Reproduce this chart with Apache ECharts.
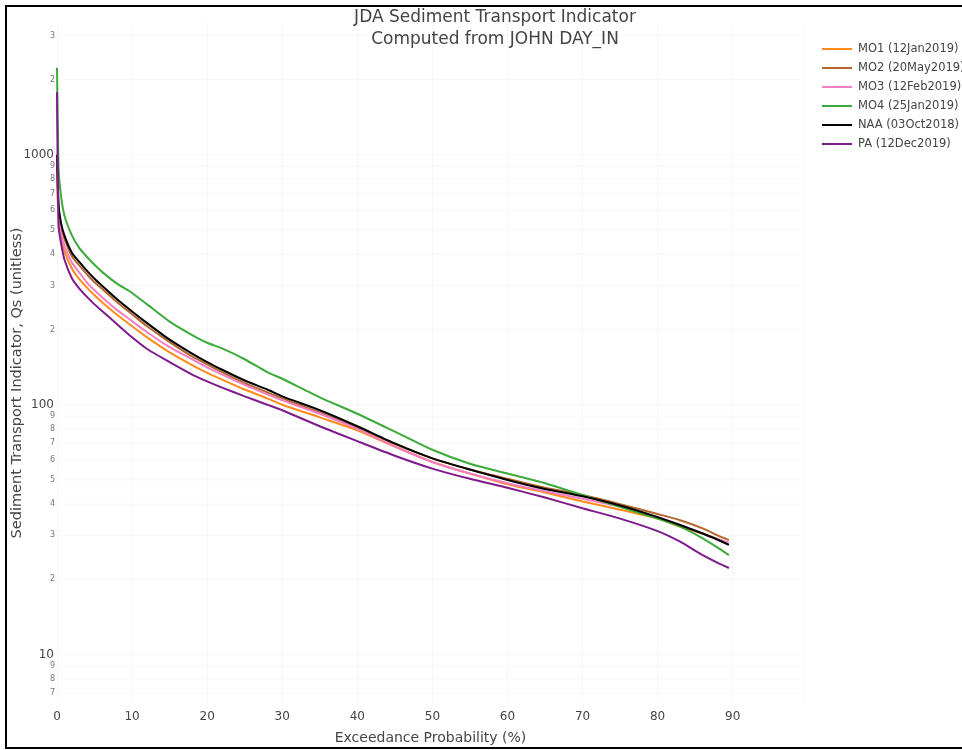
<!DOCTYPE html>
<html>
<head>
<meta charset="utf-8">
<script src="https://cdn.jsdelivr.net/npm/echarts@6/dist/echarts.min.js"></script>
<style>
  html, body { margin: 0; padding: 0; background: #fff; }
  #chart { width: 962px; height: 750px; }
</style>
</head>
<body>
<div id="chart"></div>
<script>
// exceedance probability (%)
const probs = [0, 0.2, 0.5, 1, 2, 3, 4, 5, 6, 8, 10, 12, 15, 18, 20, 22, 25, 28, 30, 35, 40, 45, 50, 55, 60, 65, 70, 75, 80, 83, 86, 88, 89.5];

// sediment transport indicator Qs per station
const mo1 = [800, 560, 470, 410, 350, 317, 294, 274, 257, 229, 206, 186, 162, 144, 134, 126, 115, 106, 100, 89, 79, 68, 59, 53, 48, 44.5, 41, 38, 35, 32.5, 30.5, 29, 28];
const mo2 = [900, 620, 520, 460, 392, 360, 332, 309, 291, 257, 230, 206, 178, 156, 145, 135, 122, 112, 106, 93, 81, 69.5, 61, 55, 50.5, 46.5, 43.5, 40, 36.5, 34.5, 32, 30, 28.7];
const mo3 = [850, 580, 490, 430, 370, 337, 308, 287, 269, 239, 216, 195, 170, 152, 141, 132, 120, 110, 104, 92, 80, 68, 59, 53, 48.5, 45, 42, 39, 35.5, 33, 30.5, 29, 28];
const mo4 = [2230, 900, 700, 570, 475, 422, 390, 363, 340, 305, 280, 252, 215, 190, 177, 168, 152, 135, 127, 107, 92, 78, 66, 58, 53, 48.5, 43.5, 39, 35, 32.5, 29.2, 26.8, 25];
const naa = [1000, 640, 540, 475, 405, 372, 343, 319, 299, 264, 236, 212, 182, 160, 148, 138, 125, 115, 108, 95, 82, 70, 61, 55, 50, 46, 43, 39.5, 35.5, 33, 30.5, 28.8, 27.5];
const pa = [1780, 520, 450, 380, 320, 291, 270, 252, 237, 210, 186, 167, 148, 132, 124, 117, 108, 100, 95, 82, 71.5, 62.5, 55.5, 50.5, 46.5, 42.5, 38.5, 35, 31.2, 28.3, 25, 23.3, 22.2];

const names = ['MO1 (12Jan2019)', 'MO2 (20May2019)', 'MO3 (12Feb2019)', 'MO4 (25Jan2019)', 'NAA (03Oct2018)', 'PA (12Dec2019)'];
const colors = ['#ff8c1a', '#b5652e', '#f47ec4', '#3cab3c', '#000000', '#7d1a8c'];
const allSeries = [mo1, mo2, mo3, mo4, naa, pa];

// y tick labels on the log axis
const majorTicks = [10, 100, 1000];
const minorTicks = [7, 8, 9, 20, 30, 40, 50, 60, 70, 80, 90, 200, 300, 400, 500, 600, 700, 800, 900, 2000, 3000];
const minorLabels = ['7', '8', '9', '2', '3', '4', '5', '6', '7', '8', '9', '2', '3', '4', '5', '6', '7', '8', '9', '2', '3'];

const font = 'DejaVu Sans';
const chart = echarts.init(document.getElementById('chart'));

const option = {
  animation: false,
  textStyle: { fontFamily: font },
  title: {
    text: 'JDA Sediment Transport Indicator\nComputed from JOHN DAY_IN',
    left: 490,
    top: 2,
    textAlign: 'center',
    textStyle: { fontFamily: font, fontSize: 17, fontWeight: 'normal', color: '#444', lineHeight: 22 }
  },
  legend: {
    orient: 'vertical',
    left: 817,
    top: 38,
    icon: 'rect',
    itemWidth: 30,
    itemHeight: 2,
    itemGap: 7,
    textStyle: { fontFamily: font, fontSize: 11.5, color: '#444', padding: [0, 0, 0, 1] },
    data: names
  },
  grid: { left: 57, right: 158, top: 22, bottom: 45 },
  xAxis: {
    type: 'value',
    min: 0,
    max: 99.5,
    interval: 10,
    name: 'Exceedance Probability (%)',
    nameLocation: 'middle',
    nameGap: 28,
    nameTextStyle: { fontFamily: font, fontSize: 14, color: '#444' },
    axisLine: { show: false },
    axisTick: { show: false },
    axisLabel: { showMaxLabel: false, fontFamily: font, fontSize: 12, color: '#444', margin: 8 },
    splitLine: { lineStyle: { color: '#f7f7f7' } }
  },
  yAxis: {
    type: 'log',
    min: 6.4,
    max: 3400,
    axisLine: { show: false },
    axisTick: { show: false },
    axisLabel: { show: false },
    splitLine: { show: false }
  },
  series: allSeries.map((vals, i) => ({
    name: names[i],
    type: 'line',
    data: probs.map((p, j) => [p, vals[j]]),
    showSymbol: false,
    smooth: 0.2,
    lineStyle: { width: 2, color: colors[i] },
    itemStyle: { color: colors[i] }
  }))
};

chart.setOption(option);

// tick labels and faint gridlines placed through the log scale
const left = chart.convertToPixel({ xAxisIndex: 0 }, 0);
const right = chart.convertToPixel({ xAxisIndex: 0 }, 99.5);
const elems = [];
majorTicks.concat(minorTicks).forEach(v => {
  const y = chart.convertToPixel({ yAxisIndex: 0 }, v);
  elems.push({ type: 'line', z: 0, shape: { x1: left, y1: y, x2: right, y2: y }, style: { stroke: '#f7f7f7', lineWidth: 1 } });
});
majorTicks.forEach(v => {
  elems.push({
    type: 'text', x: 54, y: chart.convertToPixel({ yAxisIndex: 0 }, v),
    style: { text: String(v), font: '12px "DejaVu Sans"', fill: '#444', align: 'right', verticalAlign: 'middle' }
  });
});
minorTicks.forEach((v, i) => {
  elems.push({
    type: 'text', x: 55, y: chart.convertToPixel({ yAxisIndex: 0 }, v),
    style: { text: minorLabels[i], font: '8px "DejaVu Sans"', fill: '#777', align: 'right', verticalAlign: 'middle' }
  });
});
elems.push({
  type: 'text', x: 17, y: 383, rotation: Math.PI / 2,
  style: { text: 'Sediment Transport Indicator, Qs (unitless)', font: '14.5px "DejaVu Sans"', fill: '#444', align: 'center', verticalAlign: 'middle' }
});
elems.push({
  type: 'rect', z: 10, shape: { x: 6, y: 6, width: 980, height: 742 },
  style: { fill: 'none', stroke: '#000', lineWidth: 2 }
});
chart.setOption({ graphic: elems });
</script>
</body>
</html>
